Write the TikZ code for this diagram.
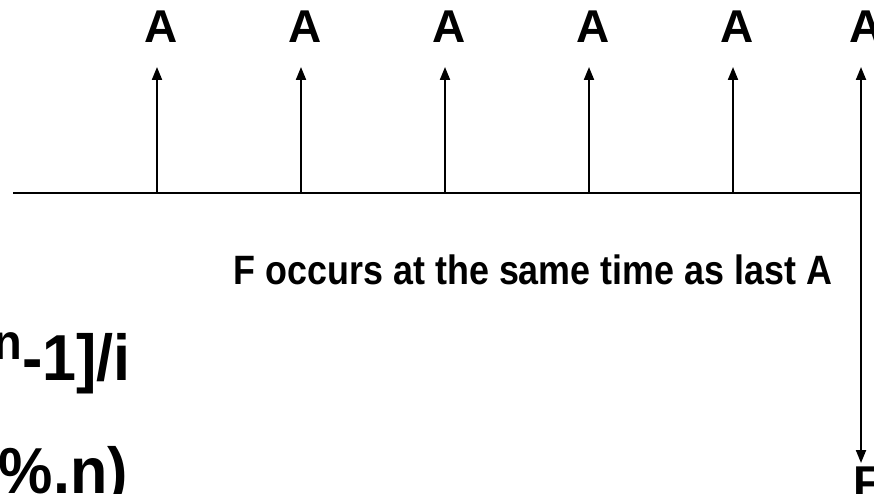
\documentclass[tikz,border=0pt]{standalone}
\usepackage{fontspec}
\setmainfont{Liberation Sans}
\usetikzlibrary{arrows.meta}
\begin{document}
\begin{tikzpicture}[x=1pt,y=-1pt,
  axisline/.style={line width=2pt,black},
  flowarrow/.style={line width=2pt,black,-{Triangle[width=10pt,length=13pt]}},
  toplabel/.style={font=\fontsize{46}{50}\selectfont\bfseries,inner sep=0pt,anchor=base},
  note/.style={font=\fontsize{41}{46}\selectfont\bfseries,inner sep=0pt,anchor=base,xscale=0.875},
  bigformula/.style={font=\fontsize{65}{72}\selectfont\bfseries,inner sep=0pt,anchor=base east,xscale=0.94}]
\useasboundingbox (0,0) rectangle (874,494);
\clip (0,0) rectangle (874,494);
% axis
\coordinate (axL) at (13,193);
\coordinate (b6) at (861,193);
\draw[axisline] (axL) -- (b6);
% upward arrows
\foreach \i/\x in {1/157,2/301,3/445,4/589,5/733}{
  \coordinate (b\i) at (\x,193);
  \coordinate (t\i) at (\x,67);
  \draw[flowarrow] (b\i) -- (t\i);
  \node[toplabel] (a\i) at (\x+4,43) {A};
}
\coordinate (t6) at (861,67);
\draw[flowarrow] (b6) -- (t6);
\node[toplabel] (a6) at (866,43) {A};
% downward F arrow
\coordinate (fdown) at (861,463);
\draw[flowarrow] (b6) -- (fdown);
\node[toplabel] (flab) at (868,498) {F};
% note
\node[note] (occ) at (533,284) {F occurs at the same time as last A};
% formulas (cut off at left edge)
\node[bigformula] (f1) at (131,380) {\raisebox{21pt}{\fontsize{50}{54}\selectfont n}-1]/i};
\node[bigformula] (f2) at (128,493) {\%.n)};
\end{tikzpicture}
\end{document}
